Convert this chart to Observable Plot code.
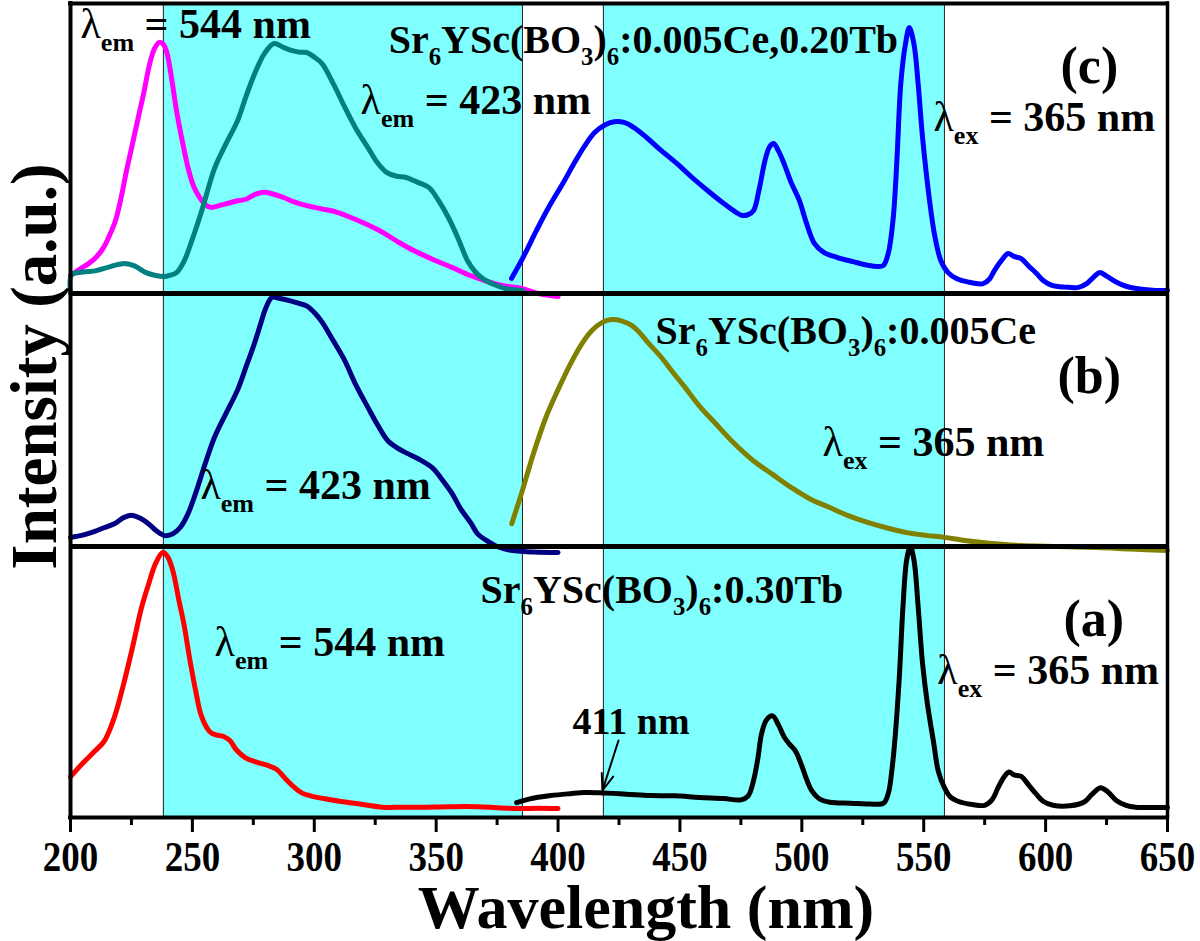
<!DOCTYPE html>
<html><head><meta charset="utf-8">
<script src="https://cdn.jsdelivr.net/npm/d3@7"></script>
<script src="https://cdn.jsdelivr.net/npm/@observablehq/plot@0.6"></script>
<style>html,body{margin:0;padding:0;background:#fff;} #chart{width:1200px;height:941px;}</style>
</head><body><div id="chart"></div>
<script>
// ---- data (wavelength nm, relative intensity % of panel) ----
const xTicks = [200, 250, 300, 350, 400, 450, 500, 550, 600, 650];
const xMinor = [225, 275, 325, 375, 425, 475, 525, 575, 625];
const bands = [[238.1, 385.4], [418.6, 558.5]];

// panel (a) Sr6YSc(BO3)6:0.30Tb
const aExc544 = [[200,15],[205,20],[210,24.5],[214,28.4],[218,37],[222,50],[226,65],[229,77],[232,86],[235,94],[238,97.9],[240,96],[242,91],[244.5,80],[246.6,71],[249,58],[251.3,47],[253.5,38],[256,33],[258,31],[260.7,30.3],[263,29.8],[265.4,28.4],[268,25],[271.8,22],[276,20.5],[281,19.2],[284.5,17.8],[288,14.5],[292,11],[295,9],[298.5,8],[305,6.8],[312.6,5.7],[320,4.8],[328,3.8],[336,3.8],[344,3.8],[355,4],[367,4],[375,3.6],[383,3.3],[392,3.4],[400,3.3]];
const aEm365 = [[383,5.5],[388,6.8],[397,8.1],[405,8.8],[411,9.2],[417,9.1],[428,8.6],[438,8.1],[448,8],[458,7.4],[468,7],[475,6.5],[478,8],[480.2,13.7],[482,22],[483.5,31],[485.5,36],[488,37.5],[490.5,34],[492.7,29.8],[495,27],[497.4,24.5],[500,19],[502,14],[504,10],[507,7],[511.5,5.6],[520,5.3],[528,5],[533.5,5.3],[535.5,9],[537,18],[538.3,30],[540,52],[541.5,78],[543,95],[544.5,100],[546,95],[547.7,78],[549.5,57],[551.5,42],[554,28],[556,17],[558.5,11],[561,7.5],[564,6],[570,4.8],[575,4.5],[578,6.5],[580.5,11],[583,15],[585,16.8],[587,15.7],[590,15.2],[593,12],[596,8.8],[599,6],[603,4.5],[610,4.3],[616,5.8],[619,8.5],[622.5,11],[625.5,9.5],[629,6.3],[633,4.5],[637,3.8],[645,3.7],[650,3.7]];

// panel (b) Sr6YSc(BO3)6:0.005Ce
const bExc423 = [[200,3.6],[205,4.5],[210,6],[214,7.5],[218,9],[222,11.5],[225.4,12.3],[229,11],[232,9],[235.5,6],[238.8,4.3],[242,5],[245,7.5],[248,12.5],[251.3,21],[255,32],[259,43],[264,53],[268.6,62],[272,71],[275,79],[278,88],[280,94],[282.7,98.5],[286,98],[290.6,97],[294,96],[297,95],[300,92.5],[303,89],[308,81],[312.5,73.5],[317,64],[322,55],[326,48],[330,42],[334,39],[337.7,37],[343,34.5],[348.6,31],[352,27],[356.5,21],[360,15],[364.4,9],[367,5],[370.6,2.4],[375,0],[380,-1.4],[390,-2.2],[400,-2.4]];
const bEm365 = [[381,9],[385,21],[390,37],[395,51],[400,62],[405,72],[410,80.5],[414,85.5],[418,88.5],[422,89.7],[426,89.2],[430,87.5],[433,85],[437,80.5],[442.4,74.7],[447,69],[452,63],[458,55.5],[464.6,48.6],[472,41],[480,34],[488,28.5],[495.7,23.3],[503,19],[511.5,15.4],[519,12.2],[527,9.5],[535,7.3],[543,5.5],[551,4.4],[558.5,3.6],[566,2.5],[574,1.6],[582,0.9],[590,0.4],[605,0],[621,-0.4],[635,-1],[650,-1.6]];

// panel (c) Sr6YSc(BO3)6:0.005Ce,0.20Tb
const cExc544 = [[200,6.2],[204,8.5],[207.4,10.3],[210.5,12.5],[213.6,15.9],[216,20],[218.4,25],[220.5,32],[223,42.4],[225.4,51.5],[227.8,60.7],[230,69],[232.5,79.3],[234.5,84.5],[236.4,86.6],[238,86],[239.6,82.8],[241.5,74],[243.5,63],[246,52],[248.2,43.4],[250.5,37],[253,33.1],[255.5,30.5],[257.6,29.7],[261,30.3],[265,31.2],[268.6,32],[272,32.5],[276,34.3],[279.6,34.9],[283,34.3],[287.4,33.1],[292,31.5],[296.9,30.3],[303,29.2],[309.4,28],[317,25.5],[326.7,21.7],[334,18],[340.8,14.8],[348,12],[356.5,9],[364,6.2],[372.3,3.8],[378,2.6],[385.4,1.7],[392,0],[400,-1]];
const cExc423 = [[200,0.3],[200.5,6.5],[205,7.4],[210.5,7.9],[216,9.2],[221.5,10.3],[226,9.6],[231,7.2],[235,6.2],[238.8,5.9],[241,6.3],[243.5,7.2],[246.5,11],[249.8,18.3],[254,29],[259.2,43.4],[264,52],[268.6,59.7],[272,68],[274.9,74.5],[277.5,79.5],[279.6,82.8],[283.5,86.2],[287,85],[290.6,83.8],[294,83.2],[296.9,83.1],[300,81.5],[303.2,79.3],[308,72],[312.6,64.1],[317,57],[322,50.3],[326,45],[329.8,41.7],[333.5,40.5],[337.7,40],[342,38.5],[347,36.6],[351,32],[355,26.2],[359,19],[362.8,11.4],[366,7.5],[369,5.2],[374,3],[378.5,1.7],[385.4,1]];
const cEm365 = [[380.9,5.2],[386,13],[391,21.5],[396,29.5],[402,38],[407,45.5],[411,51],[415,55.5],[419,58],[423,59.2],[427,59],[431,57.3],[436.3,53.8],[442,49.5],[448.8,44.8],[455,40],[461.3,35.5],[468,31],[473,28],[475.5,26.9],[478,27.2],[480.2,28.6],[482.5,36],[484.9,45.9],[486.7,50.5],[488.4,51.7],[490.5,49],[492.7,44.8],[495.5,38.5],[499,32],[502,24],[505.2,17.2],[509,14.2],[514.6,12.4],[521,11],[527.3,9.7],[531,9.3],[533.5,9.7],[535.5,14],[537.5,26.2],[539,46],[540.6,72.4],[542.5,86],[544.1,91.7],[546,86],[547.7,72.4],[549.5,54],[552.4,32],[554.5,20],[557,11.4],[560,7.2],[563.4,5.2],[568,4],[574.4,3.4],[577,5],[579,7.9],[582,11.5],[584.6,13.8],[587,12.8],[590,12],[593,9.5],[596.3,6.9],[599,4.5],[602.6,2.8],[608,2.2],[613.5,2.1],[617,3.5],[619.5,5.5],[622.2,7.2],[625,6],[629.3,3.8],[633,2.5],[637.2,1.7],[644,1.1],[650,1]];

// ---- layout ----
const panels = {a: {base: 0, h: 271}, b: {base: 271, h: 253}, c: {base: 524, h: 290}};
const yTop = 814;
const series = [
  {pts: aExc544, panel: "a", color: "#ff0000"},
  {pts: aEm365,  panel: "a", color: "#000000"},
  {pts: bExc423, panel: "b", color: "#000080"},
  {pts: bEm365,  panel: "b", color: "#808000"},
  {pts: cExc544, panel: "c", color: "#ff00ff"},
  {pts: cExc423, panel: "c", color: "#008080"},
  {pts: cEm365,  panel: "c", color: "#0000ff"}
];
const labels = [
  {t: "λ{em} = 544 nm", w: 204.1, y: 780, s: 42},
  {t: "Sr{6}YSc(BO{3}){6}:0.005Ce,0.20Tb", w: 330.5, y: 765, s: 40},
  {t: "(c)", w: 606.1, y: 735, s: 52},
  {t: "λ{ex} = 365 nm", w: 554.0, y: 687, s: 42},
  {t: "λ{em} = 423 nm", w: 319.0, y: 704, s: 42},
  {t: "Sr{6}YSc(BO{3}){6}:0.005Ce", w: 440.0, y: 474, s: 40},
  {t: "(b)", w: 604.9, y: 425, s: 52},
  {t: "λ{ex} = 365 nm", w: 508.5, y: 362, s: 42},
  {t: "λ{em} = 423 nm", w: 253.3, y: 319, s: 42},
  {t: "Sr{6}YSc(BO{3}){6}:0.30Tb", w: 368.2, y: 215, s: 40},
  {t: "(a)", w: 607.3, y: 182, s: 52},
  {t: "λ{em} = 544 nm", w: 259.1, y: 162, s: 42},
  {t: "λ{ex} = 365 nm", w: 555.6, y: 134, s: 42},
  {t: "411 nm", w: 405.9, y: 84, s: 38}
];
const arrow411 = [{x1: 424.8, y1: 77, x2: 418.2, y2: 27}];

const font = "'Liberation Serif','Times New Roman',serif";

const lineMarks = series.map(s => {
  const p = panels[s.panel];
  return Plot.line(s.pts, {x: d => d[0], y: d => p.base + d[1] * p.h / 100,
    stroke: s.color, strokeWidth: 5, curve: "catmull-rom", strokeLinejoin: "round", strokeLinecap: "round"});
});

const textMarks = labels.map(l => Plot.text([l], {x: "w", y: "y", text: "t", textAnchor: "start",
  lineAnchor: "bottom", fontSize: l.s, fontWeight: "bold", fill: "black"}));

const chart = Plot.plot({
  width: 1200, height: 941,
  marginLeft: 70, marginRight: 33, marginTop: 3, marginBottom: 124,
  style: {fontFamily: font, fontSize: "40px", background: "white", color: "black", overflow: "visible"},
  x: {domain: [200, 650]},
  y: {domain: [0, yTop], axis: null},
  marks: [
    Plot.rect(bands, {x1: d => d[0], x2: d => d[1], y1: 0, y2: yTop, fill: "#80ffff"}),
    Plot.ruleX(bands.flat(), {y1: 0, y2: yTop, stroke: "#222", strokeWidth: 1}),
    ...lineMarks,
    Plot.ruleY([panels.b.base, panels.c.base], {stroke: "black", strokeWidth: 5}),
    Plot.ruleY([yTop], {stroke: "black", strokeWidth: 4, strokeLinecap: "square"}),
    Plot.ruleY([0], {stroke: "black", strokeWidth: 4, strokeLinecap: "square"}),
    Plot.ruleX([200], {y1: 0, y2: yTop, stroke: "black", strokeWidth: 4, strokeLinecap: "square"}),
    Plot.ruleX([650], {y1: 0, y2: yTop, stroke: "black", strokeWidth: 3.5, strokeLinecap: "square"}),
    Plot.ruleX(xMinor, {y1: 0, y2: -8, stroke: "black", strokeWidth: 3}),
    Plot.axisX(xTicks, {anchor: "bottom", tickSize: 15, tickPadding: 9, strokeWidth: 3,
      fontSize: 42, fontWeight: "bold", label: null, tickFormat: d => String(d)}),
    ...textMarks,
    Plot.arrow(arrow411, {x1: "x1", y1: "y1", x2: "x2", y2: "y2", stroke: "black", strokeWidth: 2, headLength: 14, headAngle: 40}),
    Plot.text(["Wavelength (nm)"], {frameAnchor: "bottom", textAnchor: "middle", lineAnchor: "bottom", dy: 110, dx: 27, fontSize: 62, fontWeight: "bold", fill: "black"}),
    Plot.text(["Intensity (a.u.)"], {frameAnchor: "left", textAnchor: "middle", lineAnchor: "middle", rotate: -90, dx: -35, dy: -44, fontSize: 65, fontWeight: "bold", fill: "black"})
  ]
});
document.getElementById("chart").appendChild(chart);

// condense tick labels horizontally (reference uses a narrow bold serif)
chart.querySelectorAll('g[aria-label="x-axis tick label"] text').forEach(el => {
  const t = el.getAttribute("transform") || "";
  el.setAttribute("transform", t + " scale(0.88,1)");
});

// subscript / lambda formatting
const NS = "http://www.w3.org/2000/svg";
chart.querySelectorAll("text").forEach(el => {
  const s = el.textContent;
  if (!/[{λ]/.test(s)) return;
  const fs = parseFloat(getComputedStyle(el).fontSize);
  while (el.firstChild) el.removeChild(el.firstChild);
  const re = /\{([^}]*)\}|(λ)|([^{λ]+)/g;
  let m, shifted = false;
  while ((m = re.exec(s))) {
    const ts = document.createElementNS(NS, "tspan");
    if (m[1] !== undefined) {
      ts.textContent = m[1];
      ts.setAttribute("font-size", fs * 0.62);
      ts.setAttribute("dy", fs * 0.32);
      shifted = true;
    } else {
      ts.textContent = m[2] || m[3];
      if (shifted) { ts.setAttribute("dy", -fs * 0.32); shifted = false; }
      if (m[2]) ts.setAttribute("font-weight", "normal");
    }
    el.appendChild(ts);
  }
});
</script></body></html>
